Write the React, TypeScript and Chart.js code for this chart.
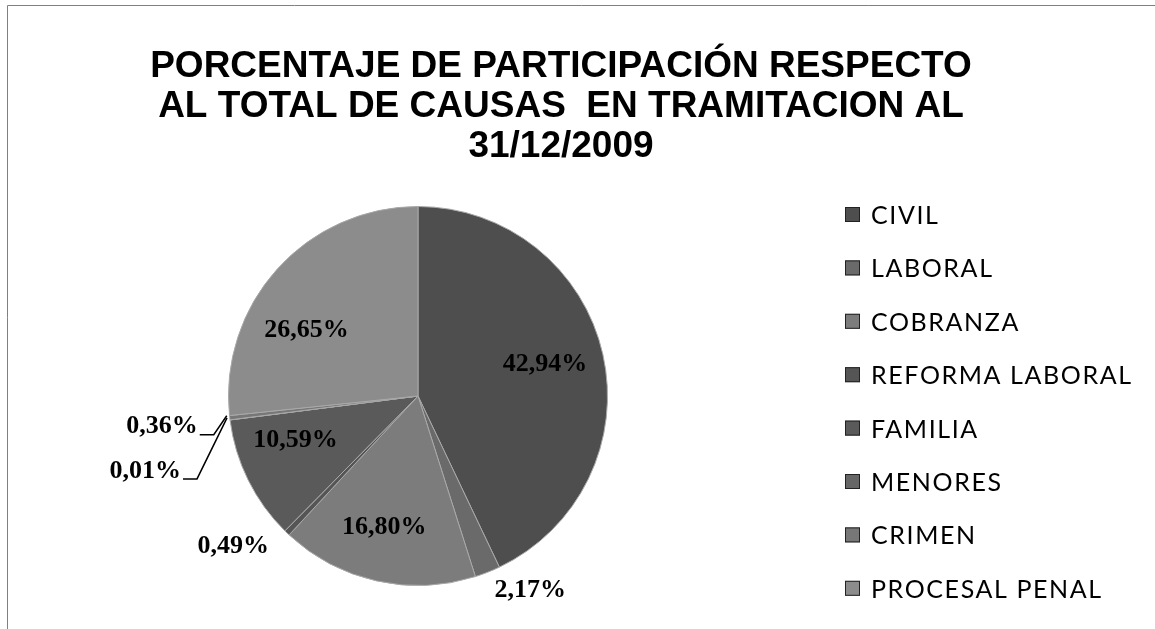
import { useEffect, useRef } from "react";
import { Chart, registerables } from "chart.js";

Chart.register(...registerables);

const categories = [
  "CIVIL",
  "LABORAL",
  "COBRANZA",
  "REFORMA LABORAL",
  "FAMILIA",
  "MENORES",
  "CRIMEN",
  "PROCESAL PENAL",
];
const shares = [42.94, 2.17, 16.8, 0.49, 10.59, 0.01, 0.36, 26.65];
const valueLabels = ["42,94%", "2,17%", "16,80%", "0,49%", "10,59%", "0,01%", "0,36%", "26,65%"];
const titleLines = [
  "PORCENTAJE DE PARTICIPACIÓN RESPECTO",
  "AL TOTAL DE CAUSAS  EN TRAMITACION AL",
  "31/12/2009",
];
const sliceColors = ["#4e4e4e", "#6a6a6a", "#7c7c7c", "#555555", "#5a5a5a", "#666666", "#777777", "#8c8c8c"];

// label placement styles (per slice): inside at fraction of radius, outside, or with leader line
const labelStyles = [
  { kind: "in", f: 0.72, nx: -6, ny: -2 },
  { kind: "out", f: 1.1, nx: 0, ny: 0 },
  { kind: "in", f: 0.72, nx: -4, ny: -2 },
  { kind: "out", f: 1.1, nx: -5, ny: 0 },
  { kind: "in", f: 0.65, nx: -12, ny: -10 },
  { kind: "leader", f: 1, nx: -45, ny: 51 },
  { kind: "leader", f: 1, nx: -28, ny: 9 },
  { kind: "in", f: 0.7, nx: -13, ny: 23 },
];

const overlay = {
  id: "overlay",
  afterDraw(chart: any) {
    const ctx = chart.ctx as CanvasRenderingContext2D;
    const W = chart.width;
    const H = chart.height;
    ctx.save();
    // frame
    ctx.strokeStyle = "#808080";
    ctx.lineWidth = 1;
    ctx.beginPath();
    ctx.moveTo(7.5, H);
    ctx.lineTo(7.5, 5.5);
    ctx.lineTo(W, 5.5);
    ctx.stroke();

    // title
    ctx.fillStyle = "#000";
    ctx.textAlign = "center";
    ctx.textBaseline = "middle";
    ctx.font = "bold 37px 'Liberation Sans', Arial, sans-serif";
    titleLines.forEach((t, i) => {
      ctx.fillText(t, 561, 67 + i * 40);
    });

    // legend
    const colors = chart.data.datasets[0].backgroundColor as string[];
    ctx.font = "25px Lato, sans-serif";
    (ctx as any).letterSpacing = "1.6px";
    ctx.textAlign = "left";
    (chart.data.labels as string[]).forEach((lab, i) => {
      const y = 215 + i * 53.4;
      ctx.fillStyle = colors[i];
      ctx.fillRect(845, y - 8, 15, 15);
      ctx.strokeStyle = "#222";
      ctx.strokeRect(845.5, y - 7.5, 14, 14);
      ctx.fillStyle = "#000";
      ctx.fillText(lab, 871, y + 1);
    });
    (ctx as any).letterSpacing = "0px";

    // data labels
    const meta = chart.getDatasetMeta(0);
    ctx.font = "bold 26px 'Liberation Serif', serif";
    meta.data.forEach((arc: any, i: number) => {
      const st = labelStyles[i];
      const { x, y, startAngle, endAngle, outerRadius } = arc.getProps(
        ["x", "y", "startAngle", "endAngle", "outerRadius"],
        true
      );
      const mid = (startAngle + endAngle) / 2;
      const cx = Math.cos(mid);
      const cy = Math.sin(mid);
      const text = valueLabels[i];
      if (st.kind === "in") {
        ctx.textAlign = "center";
        ctx.fillStyle = "#000";
        ctx.fillText(text, x + cx * outerRadius * st.f + st.nx, y + cy * outerRadius * st.f + st.ny);
      } else if (st.kind === "out") {
        ctx.textAlign = cx >= 0 ? "left" : "right";
        ctx.fillStyle = "#000";
        ctx.fillText(text, x + cx * outerRadius * st.f + st.nx, y + cy * outerRadius * st.f + st.ny);
      } else {
        const ex = x + cx * outerRadius;
        const ey = y + cy * outerRadius;
        const lx = ex + st.nx;
        const ly = ey + st.ny;
        ctx.strokeStyle = "#000";
        ctx.lineWidth = 1.5;
        ctx.beginPath();
        ctx.moveTo(ex - 3, ey - 2);
        ctx.lineTo(lx + 12, ly + 8);
        ctx.lineTo(lx - 2, ly + 8);
        ctx.stroke();
        ctx.textAlign = "right";
        ctx.fillStyle = "#000";
        ctx.fillText(text, lx - 4, ly);
      }
    });
    ctx.restore();
  },
};

export default function App() {
  const ref = useRef<HTMLCanvasElement | null>(null);
  useEffect(() => {
    if (!ref.current) return;
    const chart = new Chart(ref.current, {
      type: "pie",
      data: {
        labels: categories,
        datasets: [
          {
            data: shares,
            backgroundColor: sliceColors,
            borderColor: "#a8a8a8",
            borderWidth: 1,
          },
        ],
      },
      options: {
        responsive: false,
        animation: false,
        layout: { padding: { left: 228, right: 547, top: 206, bottom: 43 } },
        plugins: {
          legend: { display: false },
          title: { display: false },
          tooltip: { enabled: false },
        },
      },
      plugins: [overlay],
    });
    return () => chart.destroy();
  }, []);
  return (
    <div style={{ position: "absolute", left: 0, top: 0, width: 1155, height: 629, background: "#fff" }}>
      <canvas ref={ref} width={1155} height={629} />
    </div>
  );
}
